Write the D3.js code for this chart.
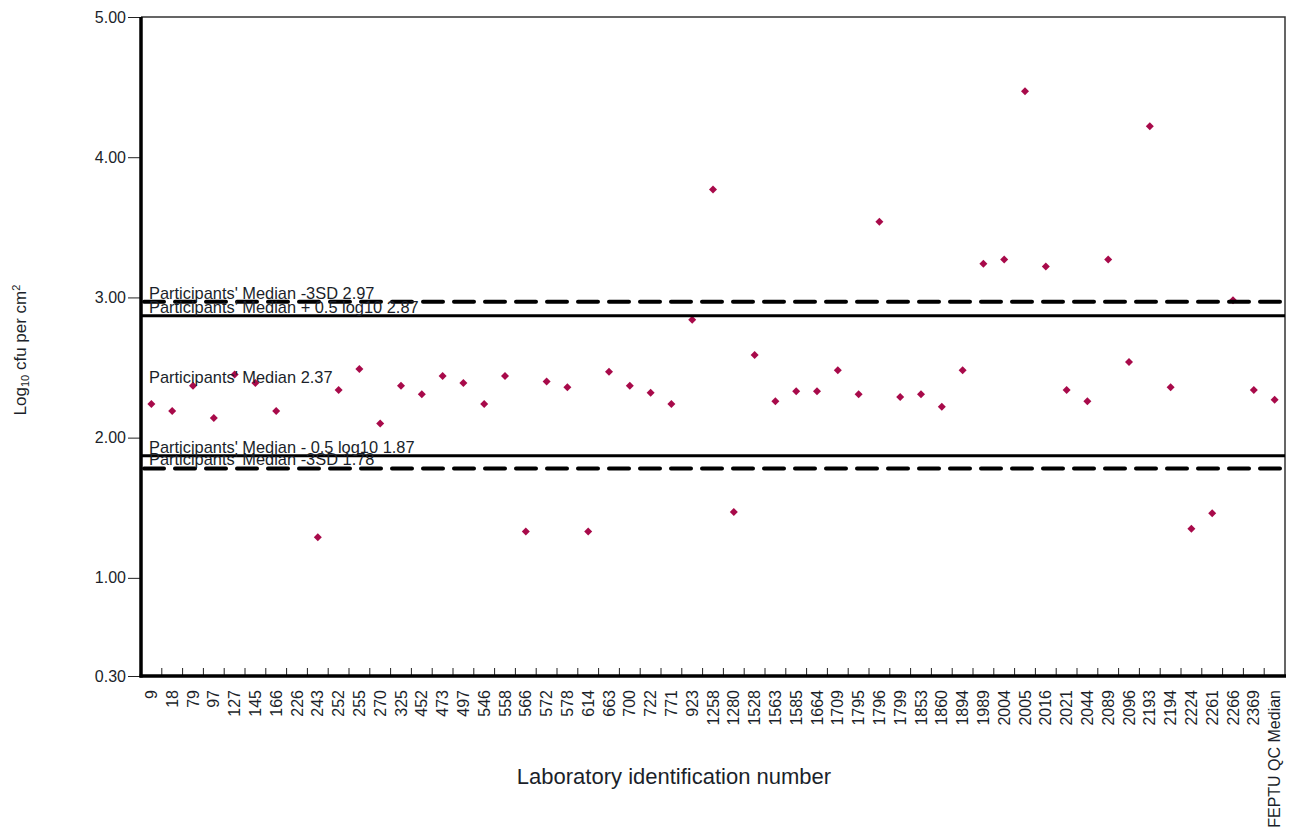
<!DOCTYPE html>
<html>
<head>
<meta charset="utf-8">
<script src="https://cdn.jsdelivr.net/npm/d3@7/dist/d3.min.js"></script>
<style>
  html, body { margin: 0; padding: 0; background: #fff; }
  svg { display: block; font-family: "Liberation Sans", Arial, sans-serif; }
</style>
</head>
<body>
<svg id="chart" width="1292" height="834"></svg>
<script>
// Laboratory identification numbers (x categories)
const labs = ["9", "18", "79", "97", "127", "145", "166", "226", "243", "252",
  "255", "270", "325", "452", "473", "497", "546", "558", "566", "572",
  "578", "614", "663", "700", "722", "771", "923", "1258", "1280", "1528",
  "1563", "1585", "1664", "1709", "1795", "1796", "1799", "1853", "1860", "1894",
  "1989", "2004", "2005", "2016", "2021", "2044", "2089", "2096", "2193", "2194",
  "2224", "2261", "2266", "2369", "FEPTU QC Median"];

// Log10 cfu per cm² reported by each laboratory (null = no result)
const results = [2.24, 2.19, 2.37, 2.14, 2.45, 2.39, 2.19, null, 1.29, 2.34,
  2.49, 2.10, 2.37, 2.31, 2.44, 2.39, 2.24, 2.44, 1.33, 2.40,
  2.36, 1.33, 2.47, 2.37, 2.32, 2.24, 2.84, 3.77, 1.47, 2.59,
  2.26, 2.33, 2.33, 2.48, 2.31, 3.54, 2.29, 2.31, 2.22, 2.48,
  3.24, 3.27, 4.47, 3.22, 2.34, 2.26, 3.27, 2.54, 4.22, 2.36,
  1.35, 1.46, 2.98, 2.34, 2.27];

// y-axis tick values
const yTicks = [0.3, 1, 2, 3, 4, 5];

// Reference limits
const sdLimits = [2.97, 1.78];
const sdLabels = ["Participants' Median -3SD 2.97", "Participants' Median -3SD 1.78"];
const logLimits = [2.87, 1.87];
const logLabels = ["Participants' Median + 0.5 log10 2.87", "Participants' Median - 0.5 log10 1.87"];
const medianValue = [2.37];
const medianLabel = ["Participants' Median 2.37"];

const svg = d3.select("#chart");
const plotL = 141, plotR = 1285, plotT = 17, plotB = 676;
const textColor = "#1b1f2a";

const x = d3.scaleBand().domain(labs).range([plotL, plotR]).padding(0);
const y = d3.scaleLinear().domain([0.3, 5]).range([plotB, plotT]);

// frame: thin top and right edges
svg.append("path")
  .attr("d", `M${plotL},${plotT}H${plotR}V${plotB}`)
  .attr("fill", "none").attr("stroke", "#333").attr("stroke-width", 1.5);

// y axis
const yAxis = d3.axisLeft(y).tickValues(yTicks)
  .tickFormat(d3.format(".2f")).tickSize(13).tickPadding(2);
const gy = svg.append("g").attr("transform", `translate(${plotL},0)`).call(yAxis);
gy.select(".domain").remove();
gy.selectAll(".tick line").attr("stroke", "#222").attr("stroke-width", 1);
gy.selectAll(".tick text").attr("font-size", 16).attr("fill", textColor)
  .attr("font-family", "Liberation Sans, Arial, sans-serif");

// x ticks at category boundaries, pointing inward
const boundaries = labs.slice(1);
svg.append("g").selectAll("line").data(boundaries).join("line")
  .attr("x1", d => x(d)).attr("x2", d => x(d))
  .attr("y1", plotB - 8).attr("y2", plotB)
  .attr("stroke", "#222").attr("stroke-width", 1);

// x labels, rotated
svg.append("g").selectAll("text").data(labs).join("text")
  .attr("transform", d => `translate(${x(d) + x.bandwidth() / 2},${plotB + 14}) rotate(-90)`)
  .attr("text-anchor", "end").attr("dy", "0.35em")
  .attr("font-size", 16).attr("fill", textColor)
  .text(d => d);

// data points (diamonds)
const pts = labs.map((c, i) => ({ c, v: results[i] })).filter(d => d.v != null);
svg.append("g").selectAll("path").data(pts).join("path")
  .attr("d", d3.symbol(d3.symbolSquare, 32))
  .attr("transform", d => `translate(${x(d.c) + x.bandwidth() / 2},${y(d.v)}) rotate(45)`)
  .attr("fill", "#a80a4a");

// reference lines
svg.append("g").selectAll("line").data(logLimits).join("line")
  .attr("x1", plotL).attr("x2", plotR)
  .attr("y1", d => y(d)).attr("y2", d => y(d))
  .attr("stroke", "#000").attr("stroke-width", 3);
svg.append("g").selectAll("line").data(sdLimits).join("line")
  .attr("x1", plotL + 3).attr("x2", plotR)
  .attr("y1", d => y(d)).attr("y2", d => y(d))
  .attr("stroke", "#000").attr("stroke-width", 4)
  .attr("stroke-linecap", "round")
  .attr("stroke-dasharray", "20,11");

// reference labels
const refText = [
  ...sdLimits.map((v, i) => ({ v, t: sdLabels[i] })),
  ...logLimits.map((v, i) => ({ v, t: logLabels[i] })),
  ...medianValue.map((v, i) => ({ v, t: medianLabel[i] }))
];
svg.append("g").selectAll("text").data(refText).join("text")
  .attr("x", 149).attr("y", d => y(d.v) - 3)
  .attr("font-size", 16.4).attr("fill", textColor)
  .text(d => d.t);

// axes lines (thick)
svg.append("line").attr("x1", plotL).attr("x2", plotL).attr("y1", plotT).attr("y2", plotB + 1.5)
  .attr("stroke", "#000").attr("stroke-width", 3.5);
svg.append("line").attr("x1", plotL - 1.5).attr("x2", plotR + 1).attr("y1", plotB).attr("y2", plotB)
  .attr("stroke", "#000").attr("stroke-width", 3.5);

// axis titles
svg.append("text")
  .attr("x", 674).attr("y", 784).attr("text-anchor", "middle")
  .attr("font-size", 22).attr("fill", textColor)
  .text("Laboratory identification number");

const yt = svg.append("text")
  .attr("transform", "translate(26,350) rotate(-90)")
  .attr("text-anchor", "middle").attr("font-size", 17).attr("fill", textColor);
yt.append("tspan").text("Log");
yt.append("tspan").attr("font-size", 11).attr("dy", 3).text("10");
yt.append("tspan").attr("dy", -3).text(" cfu per cm");
yt.append("tspan").attr("font-size", 11).attr("dy", -6).text("2");
</script>
</body>
</html>
